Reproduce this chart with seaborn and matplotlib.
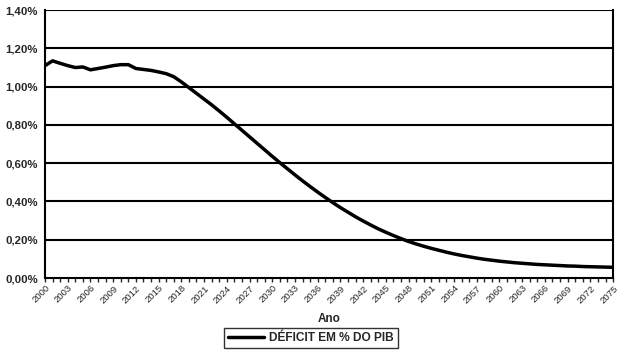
import matplotlib
matplotlib.use("Agg")
import matplotlib.pyplot as plt
from matplotlib.ticker import FixedLocator, FuncFormatter, MultipleLocator
import pandas as pd
import seaborn as sns

years = list(range(2000, 2076))
deficit = [
    1.110, 1.135, 1.122, 1.110, 1.100, 1.103, 1.088, 1.095, 1.102, 1.110,
    1.115, 1.115, 1.095, 1.090, 1.085, 1.077, 1.068, 1.052, 1.025, 0.995,
    0.965, 0.935, 0.905, 0.873, 0.840, 0.806, 0.772, 0.738, 0.704, 0.670,
    0.636, 0.603, 0.571, 0.539, 0.508, 0.478, 0.449, 0.421, 0.394, 0.368,
    0.344, 0.320, 0.298, 0.277, 0.257, 0.239, 0.222, 0.206, 0.191, 0.178,
    0.166, 0.155, 0.145, 0.135, 0.126, 0.118, 0.111, 0.104, 0.098, 0.093,
    0.088, 0.084, 0.080, 0.077, 0.074, 0.071, 0.069, 0.067, 0.065, 0.063,
    0.062, 0.060, 0.059, 0.058, 0.057, 0.056,
]
label_years = list(range(2000, 2076, 3))
y_ticks = [0.0, 0.2, 0.4, 0.6, 0.8, 1.0, 1.2, 1.4]

df = pd.DataFrame({"Ano": years, "DÉFICIT EM % DO PIB": deficit})

sns.set_style("white")
plt.rcParams["font.family"] = ["Liberation Sans", "DejaVu Sans"]

fig = plt.figure(figsize=(6.34, 3.62), dpi=100)
ax = fig.add_axes([0.071, 0.232, 0.896, 0.740])

# grid lines drawn as in the original (black, heavy)
for v in y_ticks[1:]:
    ax.axhline(v, color="black", lw=1.5, zorder=1)

sns.lineplot(data=df, x="Ano", y="DÉFICIT EM % DO PIB", color="black",
             lw=2.5, ax=ax, label="DÉFICIT EM % DO PIB", zorder=3)

ax.set_xlim(2000, 2075)
ax.set_ylim(0, 1.4)
ax.yaxis.set_major_locator(FixedLocator(y_ticks))
ax.yaxis.set_major_formatter(
    FuncFormatter(lambda v, p: f"{v:.2f}%".replace(".", ",")))
ax.xaxis.set_major_locator(FixedLocator(label_years))
ax.xaxis.set_minor_locator(MultipleLocator(1))
ax.tick_params(axis="x", which="both", direction="out", length=3,
               width=1, bottom=True, pad=1)
ax.tick_params(axis="y", length=0, pad=5)

for lab in ax.get_xticklabels():
    lab.set_rotation(45)
    lab.set_ha("right")
    lab.set_va("top")
    lab.set_rotation_mode("anchor")
    lab.set_fontsize(6.8)
for lab in ax.get_yticklabels():
    lab.set_fontsize(8.2)
    lab.set_fontweight("bold")

for side in ["left", "right", "bottom"]:
    ax.spines[side].set_color("black")
    ax.spines[side].set_linewidth(1.5)
ax.spines["top"].set_visible(False)

ax.set_xlabel("Ano", fontsize=8.5, fontweight="bold")
ax.xaxis.set_label_coords(0.5, -0.13)
ax.set_ylabel("")

leg = ax.legend(loc="center", bbox_to_anchor=(0.468, -0.225), frameon=True,
                fancybox=False, prop={"size": 8.6, "weight": "bold"},
                handlelength=3.0, handletextpad=0.4, borderpad=0.35,
                borderaxespad=0, edgecolor="black")
leg.get_frame().set_linewidth(1)

plt.savefig("out.png", dpi=100)
plt.close()
